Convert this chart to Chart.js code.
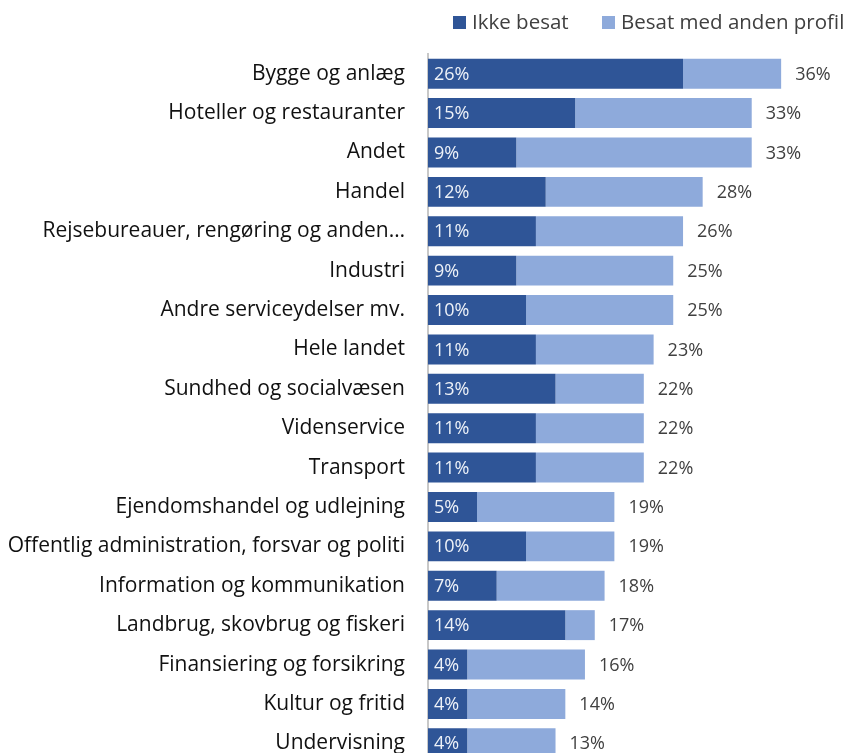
<!DOCTYPE html>
<html>
<head>
<meta charset="utf-8">
<script src="https://cdn.jsdelivr.net/npm/chart.js@4.4.0/dist/chart.umd.min.js"></script>
<style>
  html, body { margin: 0; padding: 0; overflow: hidden; background: #fff; }
  #wrap { width: 846px; height: 800px; }
</style>
</head>
<body>
<div id="wrap"><canvas id="vacancyChart"></canvas></div>
<script>
// Categories and values (percent)
const categories = [
    'Bygge og anlæg',
    'Hoteller og restauranter',
    'Andet',
    'Handel',
    'Rejsebureauer, rengøring og anden…',
    'Industri',
    'Andre serviceydelser mv.',
    'Hele landet',
    'Sundhed og socialvæsen',
    'Videnservice',
    'Transport',
    'Ejendomshandel og udlejning',
    'Offentlig administration, forsvar og politi',
    'Information og kommunikation',
    'Landbrug, skovbrug og fiskeri',
    'Finansiering og forsikring',
    'Kultur og fritid',
    'Undervisning'
];
const ikkeBesat = [26, 15, 9, 12, 11, 9, 10, 11, 13, 11, 11, 5, 10, 7, 14, 4, 4, 4];
const total = [36, 33, 33, 28, 26, 25, 25, 23, 22, 22, 22, 19, 19, 18, 17, 16, 14, 13];
// light segment = total minus the dark part
const besatAnden = total.map((t, i) => t - ikkeBesat[i]);

const FONT = "'Open Sans', sans-serif";

// Draws the value labels inside the dark bars and the totals after the bars
const barLabels = {
    id: 'barLabels',
    afterDatasetsDraw(chart) {
        const ctx = chart.ctx;
        ctx.save();
        ctx.font = '18px ' + FONT;
        ctx.textBaseline = 'middle';
        chart.getDatasetMeta(0).data.forEach((bar, i) => {
            ctx.fillStyle = '#eef2f8';
            ctx.textAlign = 'left';
            ctx.fillText(ikkeBesat[i] + '%', bar.base + 6, bar.y + 1);
        });
        chart.getDatasetMeta(1).data.forEach((bar, i) => {
            ctx.fillStyle = '#404040';
            ctx.textAlign = 'left';
            ctx.fillText(total[i] + '%', bar.x + 14, bar.y + 1);
        });
        ctx.restore();
    }
};

// Legend drawn by hand so it sits where the original one does
const topLegend = {
    id: 'topLegend',
    afterDraw(chart) {
        const ctx = chart.ctx;
        const spots = [453, 602]; // left edge of each legend square
        ctx.save();
        ctx.font = '20.5px ' + FONT;
        ctx.textBaseline = 'middle';
        ctx.textAlign = 'left';
        chart.data.datasets.forEach((ds, i) => {
            ctx.fillStyle = ds.backgroundColor;
            ctx.fillRect(spots[i], 16, 13, 13);
            ctx.fillStyle = '#404040';
            ctx.fillText(ds.label, spots[i] + 19, 23);
        });
        ctx.restore();
    }
};

const ctx = document.getElementById('vacancyChart').getContext('2d');
const vacancyChart = new Chart(ctx, {
    type: 'bar',
    data: {
        labels: categories,
        datasets: [
            {
                label: 'Ikke besat',
                data: ikkeBesat,
                backgroundColor: '#2f5597',
                barPercentage: 0.76,
                categoryPercentage: 1.0
            },
            {
                label: 'Besat med anden profil',
                data: besatAnden,
                backgroundColor: '#8eaadb',
                barPercentage: 0.76,
                categoryPercentage: 1.0
            }
        ]
    },
    options: {
        indexAxis: 'y',
        responsive: true,
        maintainAspectRatio: false,
        animation: false,
        layout: {
            padding: { left: 0, right: 6, top: 54, bottom: 37 }
        },
        plugins: {
            legend: { display: false },
            tooltip: { enabled: false }
        },
        scales: {
            x: {
                stacked: true,
                min: 0,
                max: 42,
                display: false
            },
            y: {
                stacked: true,
                grid: { display: false },
                border: { display: true, color: '#c8c8c8', width: 2 },
                ticks: {
                    color: '#111',
                    font: { family: FONT, size: 21 },
                    padding: 15
                },
                afterFit(scale) {
                    scale.width = 428;
                }
            }
        }
    },
    plugins: [barLabels, topLegend]
});
</script>
</body>
</html>
